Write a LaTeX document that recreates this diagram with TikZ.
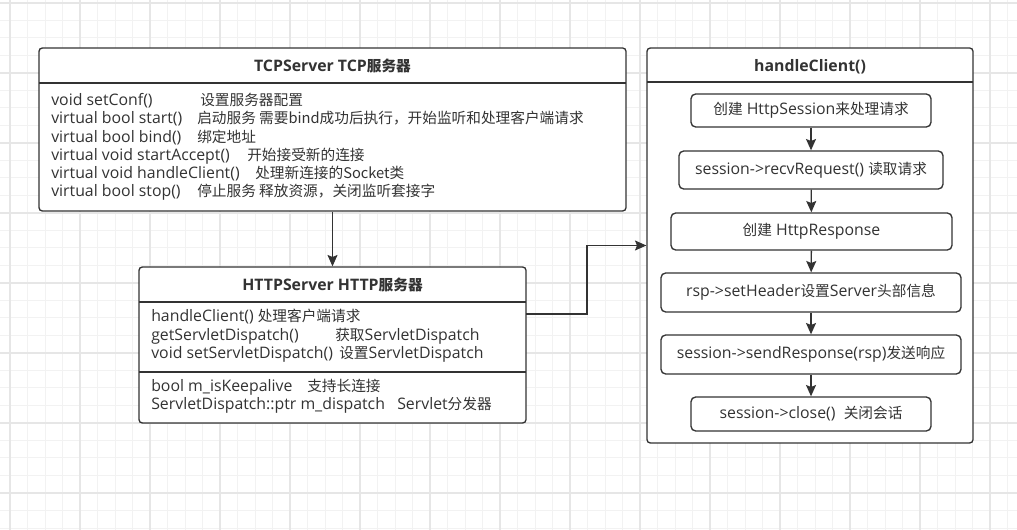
\documentclass[tikz,border=0pt]{standalone}
\usepackage{fontspec}
\setmainfont{Open Sans}[Scale=1.08]
\newfontfamily\cjk{Noto Sans CJK SC}
\usetikzlibrary{arrows.meta}
\definecolor{linec}{HTML}{333333}
\definecolor{textc}{HTML}{333333}
\definecolor{gridminor}{HTML}{F2F2F2}
\definecolor{gridmajor}{HTML}{E6E6E6}
\tikzset{
	umlbox/.style args={#1/#2}{draw=linec, line width=1pt, rounded corners=2.5pt, fill=white,
		minimum width=#1*0.75pt, minimum height=#2*0.75pt, inner sep=0pt},
	stepbox/.style args={#1/#2}{umlbox=#1/#2, rounded corners=3.5pt,
		font=\fontsize{11}{13}\selectfont, text=textc},
	txt/.style={anchor=west, inner sep=0pt, text height=8pt, text depth=2.5pt,
		font=\fontsize{11}{13}\selectfont, text=textc},
	title/.style={inner sep=0pt, font=\fontsize{11}{13}\selectfont\bfseries, text=textc},
	divider/.style={draw=linec, line width=1pt},
	arr/.style={draw=linec, line width=1pt, -{Stealth[length=8.5pt, width=7.5pt, inset=1.5pt]}},
}

\begin{document}
\begin{tikzpicture}[x=0.75pt, y=-0.75pt]
		\useasboundingbox (0,0) rectangle (1017,530);
		\fill[white] (0,0) rectangle (1017,530);

		% grid
		\foreach \k [evaluate=\k as \gx using 10+17.5*\k] in {0,...,57}
			\draw[gridminor, line width=0.75pt] (\gx,0) -- (\gx,530);
		\foreach \k [evaluate=\k as \gy using 3+17.5*\k] in {0,...,30}
			\draw[gridminor, line width=0.75pt] (0,\gy) -- (1017,\gy);
		\foreach \gx in {10,80,...,1000}
			\draw[gridmajor, line width=0.9pt] (\gx,0) -- (\gx,530);
		\foreach \gy in {3,73,...,530}
			\draw[gridmajor, line width=0.9pt] (0,\gy) -- (1017,\gy);

		% TCPServer
		\node[umlbox=587/163] (tcp) at (332.5,129.5) {};
		\draw[divider] (39,83) -- (626,83);
		\node[title] (tcptitle) at (332.5,66) {TCPServer TCP{\cjk 服务器}};
		\foreach \n/\y/\a/\cx/\b in {
			1/102/{void setConf()}/200/{设置服务器配置},
			2/120/{virtual bool start()}/197/{启动服务 需要bind成功后执行，开始监听和处理客户端请求},
			3/139/{virtual bool bind()}/197/{绑定地址},
			4/157/{virtual void startAccept()}/247/{开始接受新的连接},
			5/175/{virtual void handleClient()}/255/{处理新连接的Socket类},
			6/193/{virtual bool stop()}/197/{停止服务 释放资源，关闭监听套接字}} {
			\node[txt] (tcpa\n) at (51,\y) {\a};
			\node[txt] (tcpb\n) at (\cx,\y) {\cjk\b};
		}

		% HTTPServer
		\node[umlbox=387/156] (http) at (332.5,345) {};
		\draw[divider] (139,302) -- (526,302);
		\draw[divider] (139,372) -- (526,372);
		\node[title] (httptitle) at (332.5,285) {HTTPServer HTTP{\cjk 服务器}};
		\node[txt] (httpa1) at (151,318) {handleClient() {\cjk 处理客户端请求}};
		\foreach \n/\y/\a/\cx/\b in {
			2/337/{getServletDispatch()}/335/{{\cjk 获取}ServletDispatch},
			3/355/{void setServletDispatch()}/339/{{\cjk 设置}ServletDispatch},
			4/388/{bool m\_isKeepalive}/307/{{\cjk 支持长连接}},
			5/406/{ServletDispatch::ptr m\_dispatch}/397/{Servlet{\cjk 分发器}}} {
			\node[txt] (httpa\n) at (151,\y) {\a};
			\node[txt] (httpb\n) at (\cx,\y) {\b};
		}

		% handleClient
		\node[umlbox=326/395] (handle) at (810,245.5) {};
		\draw[divider] (647,82) -- (973,82);
		\node[title] (handletitle) at (810,67) {handleClient()};
		\node[stepbox=240/33] (s1) at (811,110.5) {{\cjk 创建} HttpSession{\cjk 来处理请求}};
		\node[stepbox=264/38] (s2) at (811,170) {session->recvRequest() {\cjk 读取请求}};
		\node[stepbox=281/37] (s3) at (811.5,231.5) {{\cjk 创建} HttpResponse};
		\node[stepbox=300/39] (s4) at (811,292.5) {rsp->setHeader{\cjk 设置}Server{\cjk 头部信息}};
		\node[stepbox=300/39] (s5) at (811,354.5) {session->sendResponse(rsp){\cjk 发送响应}};
		\node[stepbox=240/34] (s6) at (811,414) {session->close()~ {\cjk 关闭会话}};

		% arrows
		\draw[arr] (tcp.south) -- (http.north);
		\coordinate (httpout) at (526,314);
		\draw[arr] (httpout) -- ++(61,0) |- (handle.west);
		\foreach \a/\b in {s1/s2, s2/s3, s3/s4, s4/s5, s5/s6}
			\draw[arr] (\a) -- (\b);
\end{tikzpicture}
\end{document}
